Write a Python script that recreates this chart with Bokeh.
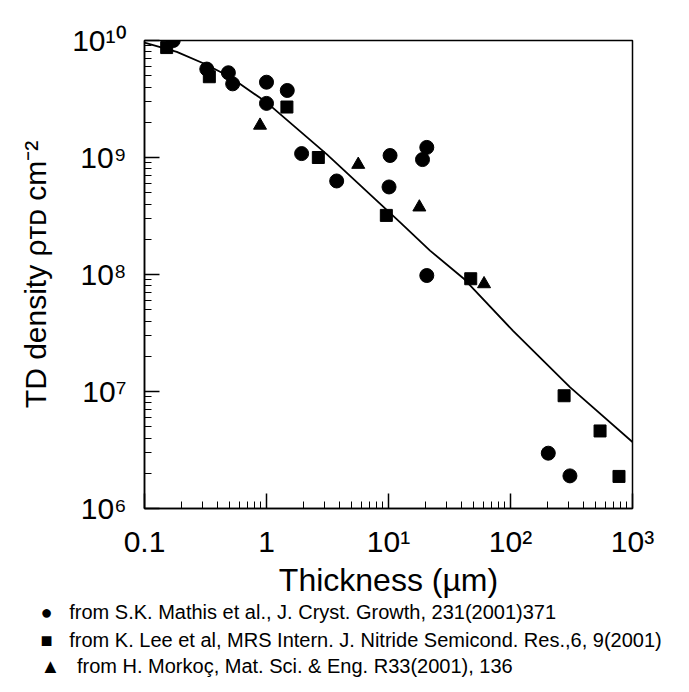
from bokeh.plotting import figure
from bokeh.models import Range1d, Title
from bokeh.embed import file_html
from bokeh.resources import INLINE

# ---------------- data ----------------
mathis_x = [0.172, 0.324, 0.487, 0.528, 1.0, 1.0, 1.48, 1.94, 3.76, 10.3, 10.1, 20.6, 19.0, 20.6, 204, 307]
mathis_y = [1.0e10, 5.7e9, 5.3e9, 4.26e9, 4.4e9, 2.9e9, 3.74e9, 1.08e9, 6.3e8, 1.04e9, 5.6e8, 1.22e9, 9.6e8, 9.8e7, 2.97e6, 1.9e6]

lee_x = [0.152, 0.34, 1.47, 2.66, 9.6, 47.2, 275, 542, 775]
lee_y = [8.7e9, 4.9e9, 2.7e9, 1.0e9, 3.2e8, 9.2e7, 9.2e6, 4.6e6, 1.88e6]

morkoc_x = [0.885, 5.65, 17.9, 60.7]
morkoc_y = [1.88e9, 8.7e8, 3.76e8, 8.3e7]

fit_x = [0.1, 0.184, 0.313, 0.5, 1.0, 3.11, 12.4, 21.9, 41, 105, 307, 1000]
fit_y = [9.6e9, 8.0e9, 6.3e9, 4.9e9, 2.96e9, 1.07e9, 2.8e8, 1.6e8, 9.3e7, 3.3e7, 1.09e7, 3.7e6]

x_ticks = [0.1, 1, 10, 100, 1000]
x_tick_labels = ["0.1", "1", "10\u00b9", "10\u00b2", "10\u00b3"]

y_ticks = [1e6, 1e7, 1e8, 1e9, 1e10]
y_tick_labels = ["10\u2076", "10\u2077", "10\u2078", "10\u2079", "10\u00b9\u2070"]

x_title = "Thickness (\u00b5m)"
y_title = "TD density \u03c1\u1d1b\u1d05 cm\u207b\u00b2"

legend_symbols = ["\u25cf", "\u25a0", "\u25b2"]
legend_labels = [
    "from S.K. Mathis et al., J. Cryst. Growth, 231(2001)371",
    "from K. Lee et al, MRS Intern. J. Nitride Semicond. Res.,6, 9(2001)",
    "from H. Morko\u00e7, Mat. Sci. & Eng. R33(2001), 136",
]

FONT = "Liberation Sans"

p = figure(width=689, height=692, x_axis_type="log", y_axis_type="log",
           x_range=Range1d(0.1, 1000), y_range=Range1d(1e6, 1e10),
           output_backend="svg", toolbar_location=None,
           min_border_left=144, min_border_right=57,
           min_border_top=40, min_border_bottom=184)
p.xgrid.visible = False
p.ygrid.visible = False
p.outline_line_color = "black"
p.outline_line_width = 1.5
p.background_fill_color = "white"
p.border_fill_color = "white"

for ax in (p.xaxis[0], p.yaxis[0]):
    ax.major_tick_in = 15
    ax.major_tick_out = 0
    ax.minor_tick_in = 7
    ax.minor_tick_out = 0
    ax.axis_line_width = 1.5
    ax.axis_line_color = "black"
    ax.major_tick_line_width = 1.5
    ax.major_tick_line_color = "black"
    ax.minor_tick_line_color = "black"
    ax.minor_tick_line_width = 1
    ax.major_label_text_font = FONT
    ax.major_label_text_font_size = "30px"
    ax.major_label_text_color = "black"
    ax.axis_label_text_font = FONT
    ax.axis_label_text_font_style = "normal"
    ax.axis_label_text_color = "black"

p.xaxis[0].major_label_overrides = {v: s for v, s in zip(x_ticks, x_tick_labels)}
p.yaxis[0].major_label_overrides = {v: s for v, s in zip(y_ticks, y_tick_labels)}
p.xaxis[0].major_label_standoff = 16
p.yaxis[0].major_label_standoff = 18
p.xaxis[0].axis_label = x_title
p.xaxis[0].axis_label_text_font_size = "32px"
p.xaxis[0].axis_label_standoff = 1
p.yaxis[0].axis_label = y_title
p.yaxis[0].axis_label_text_font_size = "30px"
p.yaxis[0].axis_label_standoff = 17

p.line(fit_x, fit_y, line_color="black", line_width=1.8)
p.scatter(mathis_x, mathis_y, marker="circle", size=14, fill_color="black", line_color="black")
p.scatter(lee_x, lee_y, marker="square", size=12, fill_color="black", line_color="black")
p.scatter(morkoc_x, morkoc_y, marker="triangle", size=13, fill_color="black", line_color="black")

gap = "\u00a0\u00a0\u00a0"
row_standoffs = [-4, 12, -8]
for sym, lab, so in zip(legend_symbols, legend_labels, row_standoffs):
    p.add_layout(Title(text=sym + gap + lab, align="left", offset=-104, standoff=so,
                       text_font=FONT, text_font_size="20px", text_font_style="normal",
                       text_color="black"), "below")

open("out.html", "w").write(file_html(p, INLINE))
